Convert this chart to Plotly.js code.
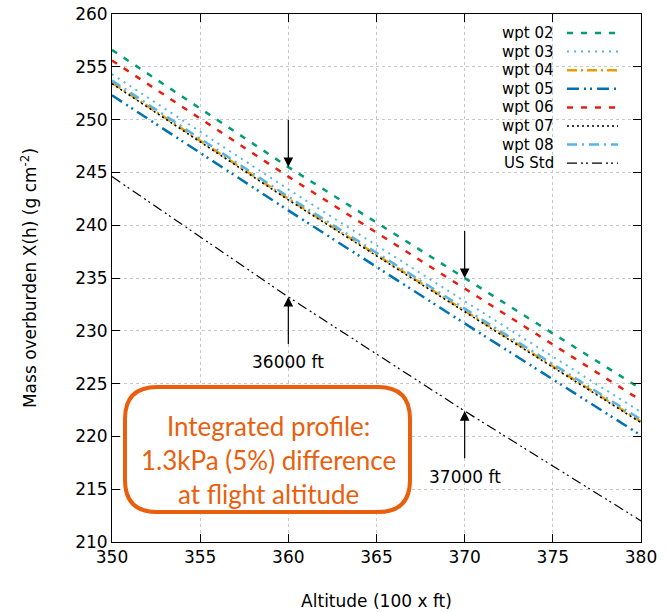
<!DOCTYPE html>
<html><head><meta charset="utf-8">
<script src="https://cdn.plot.ly/plotly-3.0.1.min.js"></script>
<style>html,body{margin:0;padding:0;background:#fff}#chart{width:670px;height:612px}</style>
</head><body><div id="chart"></div>
<script>
const altitude = [350, 360, 370, 380];
const seriesNames = ["wpt 02", "wpt 03", "wpt 04", "wpt 05", "wpt 06", "wpt 07", "wpt 08", "US Std"];
const wpt02 = [256.6, 245.5, 235.0, 224.5];
const wpt03 = [254.3, 243.4, 232.8, 222.3];
const wpt04 = [253.5, 242.5, 231.9, 221.4];
const wpt05 = [252.3, 241.4, 230.7, 220.1];
const wpt06 = [255.6, 244.6, 234.0, 223.4];
const wpt07 = [253.4, 242.4, 231.8, 221.3];
const wpt08 = [253.7, 242.7, 232.1, 221.6];
const usStd = [244.6, 233.2, 222.4, 212.0];
const xTicks = [350, 355, 360, 365, 370, 375, 380];
const yTicks = [210, 215, 220, 225, 230, 235, 240, 245, 250, 255, 260];
const markerAlts = [360, 370];
const markerLabels = ["36000 ft", "37000 ft"];
const boxText = "Integrated profile:<br>1.3kPa (5%) difference<br>at flight altitude";

const values = [wpt02, wpt03, wpt04, wpt05, wpt06, wpt07, wpt08, usStd];
const styles = [
  {color: "#009e73", width: 2.5, dash: "6px,8px"},
  {color: "#56b4e9", width: 2, dash: "2px,5px"},
  {color: "#e69f00", width: 2.5, dash: "10px,4px,2px,4px"},
  {color: "#0072b2", width: 2.5, dash: "12px,5px,2px,4px,2px,5px"},
  {color: "#e51e10", width: 2.5, dash: "6px,8px"},
  {color: "#000000", width: 1.6, dash: "2px,3px"},
  {color: "#56b4e9", width: 2.5, dash: "10px,5px,2px,5px"},
  {color: "#000000", width: 1.2, dash: "10px,4px,2px,3px,2px,4px"}
];

const traces = values.map((v, i) => ({
  x: altitude, y: v, type: "scatter", mode: "lines", name: seriesNames[i],
  line: styles[i], showlegend: false, hoverinfo: "skip"
}));

const W = 529, H = 528;
const annotations = [];
const shapes = [];
seriesNames.forEach((n, i) => {
  const py = 33 + 18.6 * i;
  const yp = (542 - py) / H;
  annotations.push({xref: "paper", yref: "paper", x: (556 - 112) / W, y: yp, xanchor: "right", yanchor: "middle",
    text: n, showarrow: false, font: {family: "DejaVu Sans", size: 15, color: "#000"}});
  shapes.push({type: "line", xref: "paper", yref: "paper", x0: (567 - 112) / W, x1: (618 - 112) / W, y0: yp, y1: yp,
    line: {color: styles[i].color, width: styles[i].width, dash: styles[i].dash}});
});

markerAlts.forEach((a, i) => {
  const yTop = wpt02[altitude.indexOf(a)];
  annotations.push({x: a, y: yTop, ax: a, ay: yTop + 4.6, axref: "x", ayref: "y", xref: "x", yref: "y",
    showarrow: true, arrowhead: 2, arrowsize: 1.6, arrowwidth: 1.2, arrowcolor: "#000", text: ""});
  const yStd = usStd[altitude.indexOf(a)];
  annotations.push({x: a, y: yStd, ax: a, ay: yStd - 4.6, axref: "x", ayref: "y", xref: "x", yref: "y",
    showarrow: true, arrowhead: 2, arrowsize: 1.6, arrowwidth: 1.2, arrowcolor: "#000", text: ""});
  annotations.push({x: a, y: yStd - 6.2, xref: "x", yref: "y", text: markerLabels[i], showarrow: false,
    xanchor: "center", yanchor: "middle", font: {family: "DejaVu Sans", size: 17, color: "#000"}});
});

const bx0 = (125 - 112) / W, bx1 = (410 - 112) / W, by1 = (542 - 387) / H, by0 = (542 - 512) / H;
const rx = 32 / W, ry = 32 / H;
shapes.push({type: "path", xref: "paper", yref: "paper",
  path: `M ${bx0 + rx} ${by1} L ${bx1 - rx} ${by1} Q ${bx1} ${by1} ${bx1} ${by1 - ry} L ${bx1} ${by0 + ry} Q ${bx1} ${by0} ${bx1 - rx} ${by0} L ${bx0 + rx} ${by0} Q ${bx0} ${by0} ${bx0} ${by0 + ry} L ${bx0} ${by1 - ry} Q ${bx0} ${by1} ${bx0 + rx} ${by1} Z`,
  line: {color: "#ea5f0e", width: 4}, fillcolor: "rgba(255,255,255,1)", layer: "above"});
annotations.push({xref: "paper", yref: "paper", x: (bx0 + bx1) / 2 + 1 / W, y: (542 - 460) / H, xanchor: "center", yanchor: "middle",
  text: boxText, showarrow: false, align: "center",
  font: {family: "Lato", size: 26, color: "#ea5f0e"}});

const axisCommon = {
  showline: true, linecolor: "#000", linewidth: 1, mirror: "ticks",
  ticks: "inside", ticklen: 8, tickcolor: "#000",
  showgrid: true, gridcolor: "#c8c8c8", griddash: "dot", gridwidth: 1,
  zeroline: false, automargin: false, tickfont: {family: "DejaVu Sans", size: 17, color: "#000"}
};

const layout = {
  width: 670, height: 612,
  margin: {l: 112, r: 29, t: 14, b: 70},
  paper_bgcolor: "#fff", plot_bgcolor: "#fff",
  showlegend: false,
  xaxis: Object.assign({}, axisCommon, {range: [350, 380], tickvals: xTicks, ticktext: xTicks.map(String),
    title: {text: "Altitude (100 x ft)", font: {family: "DejaVu Sans", size: 17, color: "#000"}, standoff: 28}}),
  yaxis: Object.assign({}, axisCommon, {range: [210, 260], tickvals: yTicks, ticktext: yTicks.map(String),
    title: {text: "Mass overburden X(h) (g cm<sup>-2</sup>)", font: {family: "DejaVu Sans", size: 17, color: "#000"}, standoff: 34}}),
  shapes: shapes,
  annotations: annotations
};

Plotly.newPlot("chart", traces, layout, {displayModeBar: false, staticPlot: true});
</script></body></html>
